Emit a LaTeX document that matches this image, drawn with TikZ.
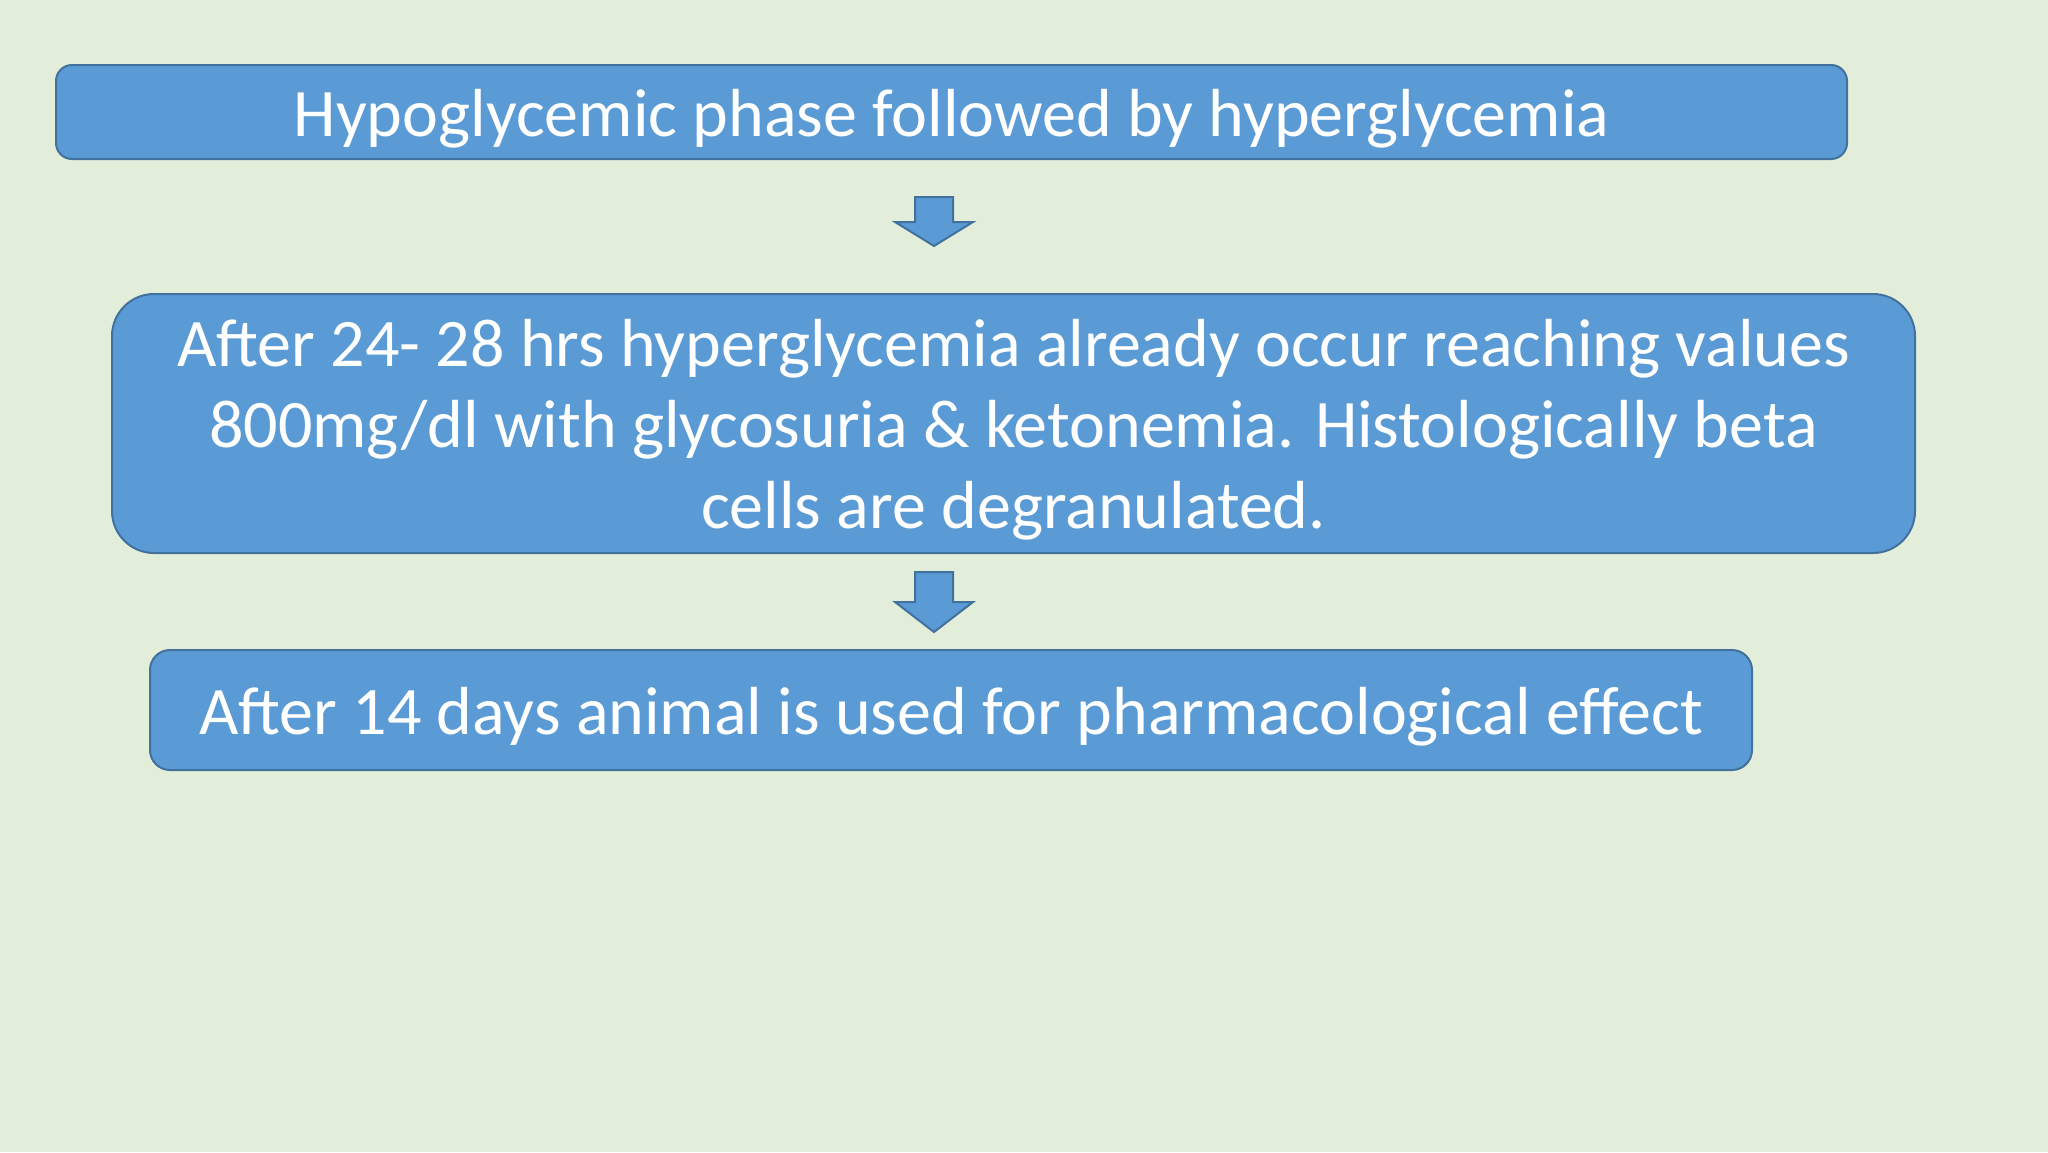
\documentclass[tikz,border=0pt]{standalone}
\usepackage{fontspec}
\setmainfont{Carlito}
\definecolor{bg}{HTML}{E3EEDA}
\definecolor{boxfill}{HTML}{5B9BD5}
\definecolor{boxline}{HTML}{41719C}
\begin{document}
\begin{tikzpicture}[x=0.5pt,y=-0.5pt,
  box/.style={draw=boxline,fill=boxfill,line width=1pt,inner sep=0pt},
  txt/.style={text=white,font=\fontsize{34pt}{40.5pt}\selectfont,align=center,inner sep=0pt},
  blockarrow/.style={draw=boxline,fill=boxfill,line width=1pt,line join=miter}]
\fill[bg] (0,0) rectangle (2048,1152);
\useasboundingbox (0,0) rectangle (2048,1152);
\node[box,rounded corners=8pt,minimum width=895.5pt,minimum height=47pt] (b1) at (951.5,112) {};
\node[txt] (t1) at ([yshift=-3.5pt]b1.center) {Hypoglycemic phase followed by hyperglycemia};
\node[box,rounded corners=21pt,minimum width=901.5pt,minimum height=129.5pt] (b2) at (1013.5,423.5) {};
\node[txt] (t2) at ([yshift=-3pt]b2.center) {After 24- 28 hrs hyperglycemia already occur reaching values\\800mg/dl with glycosuria \& ketonemia. Histologically beta\\cells are degranulated.};
\node[box,rounded corners=10pt,minimum width=801pt,minimum height=60pt] (b3) at (951,710) {};
\node[txt] (t3) at ([yshift=-3.5pt]b3.center) {After 14 days animal is used for pharmacological effect};
\draw[blockarrow] (915,197) -- (953,197) -- (953,222) -- (973,222) -- (934,246) -- (895,222) -- (915,222) -- cycle;
\draw[blockarrow] (915,572) -- (953,572) -- (953,602) -- (973,602) -- (934,632) -- (895,602) -- (915,602) -- cycle;
\end{tikzpicture}
\end{document}
